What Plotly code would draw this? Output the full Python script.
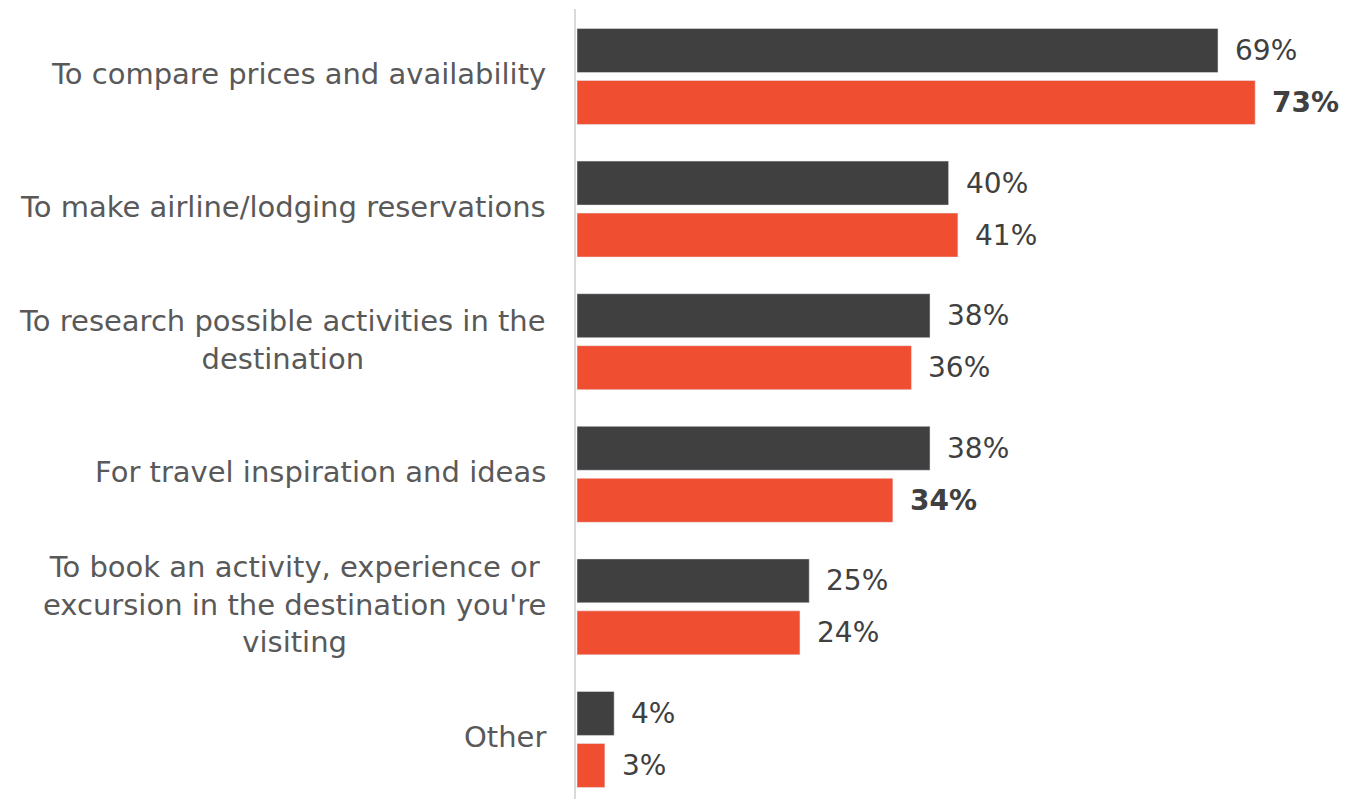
import plotly.graph_objects as go

categories = [
    "To compare prices and availability",
    "To make airline/lodging reservations",
    "To research possible activities in the<br>destination",
    "For travel inspiration and ideas",
    "To book an activity, experience or<br>excursion in the destination you're<br>visiting",
    "Other",
]
series_a = [69, 40, 38, 38, 25, 4]
series_b = [73, 41, 36, 34, 24, 3]
bold_a = [False, False, False, False, False, False]
bold_b = [True, False, False, True, False, False]

GRAY = "#404040"
ORANGE = "#F04E30"
LABEL = "#595959"
FONT = "DejaVu Sans"
FS_VAL = 28
FS_CAT = 29

idx = list(range(len(categories)))

fig = go.Figure()
fig.add_trace(go.Bar(y=idx, x=series_a, orientation="h", marker_color=GRAY,
                     name="A", hoverinfo="skip"))
fig.add_trace(go.Bar(y=idx, x=series_b, orientation="h", marker_color=ORANGE,
                     name="B", hoverinfo="skip"))

cat_px = 132.6
bargap = 0.216
slot = cat_px * (1 - bargap) / 2
annotations = []
for i in idx:
    for vals, bolds, sign in ((series_a, bold_a, 1), (series_b, bold_b, -1)):
        t = f"{vals[i]}%"
        if bolds[i]:
            t = f"<b>{t}</b>"
        annotations.append(dict(x=vals[i], y=i, xref="x", yref="y", text=t,
                                showarrow=False, xanchor="left", yanchor="middle",
                                xshift=15, yshift=sign * slot / 2,
                                font=dict(family=FONT, size=FS_VAL, color=GRAY)))
    annotations.append(dict(x=0, y=i, xref="paper", yref="y", text=categories[i],
                            showarrow=False, xanchor="right", yanchor="middle",
                            align="center", xshift=-28, yshift=2,
                            font=dict(family=FONT, size=FS_CAT, color=LABEL)))

# page body has an 8px margin; compensate so the plot lands at the reference position
fig.update_layout(
    width=1349, height=791,
    margin=dict(l=568, r=0, t=1, b=0),
    barmode="group", bargap=bargap, bargroupgap=0.154,
    plot_bgcolor="white", paper_bgcolor="white",
    showlegend=False,
    annotations=annotations,
    xaxis=dict(range=[-0.1077, 83.96], showgrid=False, zeroline=False,
               showticklabels=False, showline=False, ticks=""),
    yaxis=dict(range=[5.449, -0.509], showgrid=False, zeroline=False,
               showticklabels=False, showline=True, linecolor="#D9D9D9",
               linewidth=2, ticks=""),
    font=dict(family=FONT, size=FS_CAT, color=LABEL),
)

fig.write_html("out.html")
